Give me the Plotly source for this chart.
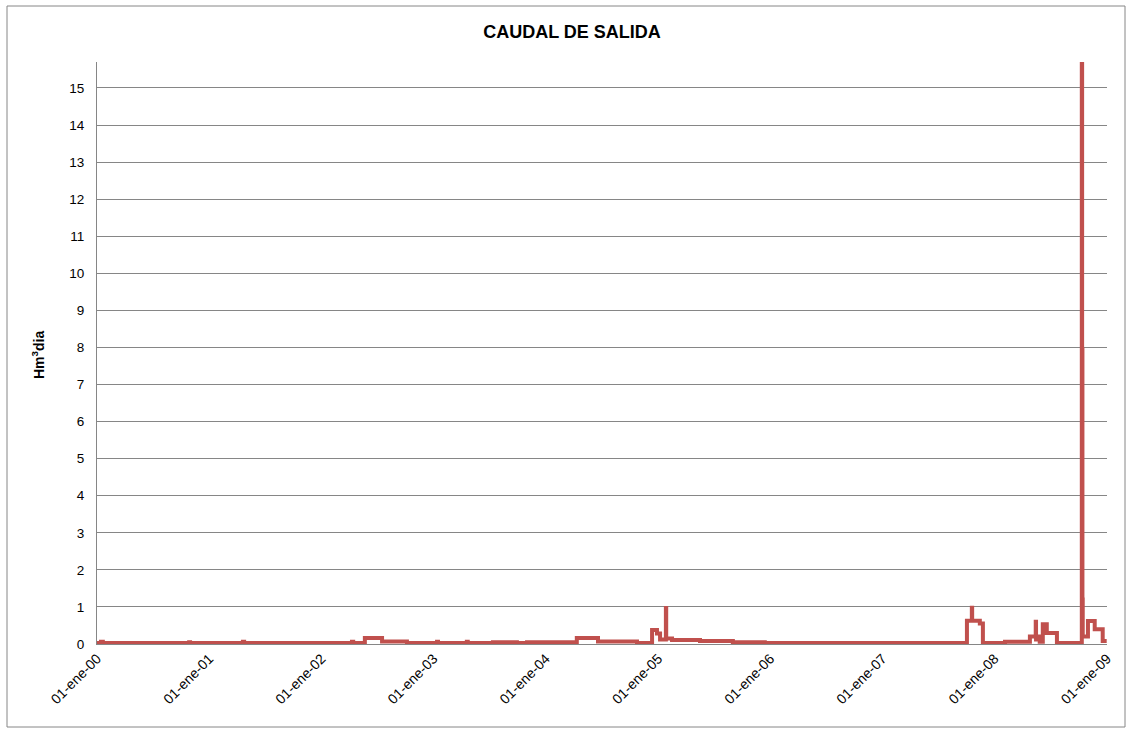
import plotly.graph_objects as go

# Caudal de salida (Hm3/dia): fechas en que cambia el valor y valor desde esa fecha
fechas = [
    "2000-01-01", "2000-01-14", "2000-01-20", "2000-10-27", "2000-10-30",
    "2001-04-20", "2001-04-24", "2002-04-10", "2002-04-14", "2002-05-22",
    "2002-07-17", "2002-10-06", "2003-01-12", "2003-01-15", "2003-04-19",
    "2003-04-22", "2003-07-13", "2003-09-29", "2003-11-01", "2004-03-29",
    "2004-04-11", "2004-06-19", "2004-10-24", "2004-12-12", "2004-12-28",
    "2005-01-07", "2005-01-26", "2005-01-27", "2005-02-15", "2005-05-17",
    "2005-09-01", "2005-12-14", "2007-10-03", "2007-10-19", "2007-10-20",
    "2007-11-14", "2007-11-24", "2008-02-04", "2008-04-25", "2008-05-14",
    "2008-05-15", "2008-05-18", "2008-05-27", "2008-06-06", "2008-06-19",
    "2008-06-20", "2008-07-22", "2008-10-11", "2008-10-12", "2008-10-13",
    "2008-10-14", "2008-10-31", "2008-11-22", "2008-12-18", "2008-12-31",
]
caudal = [
    0.03, 0.06, 0.03, 0.05, 0.03,
    0.06, 0.03, 0.06, 0.03, 0.16,
    0.07, 0.03, 0.06, 0.03, 0.06,
    0.03, 0.05, 0.03, 0.05, 0.04,
    0.16, 0.07, 0.03, 0.38, 0.28,
    0.12, 0.97, 0.15, 0.11, 0.08,
    0.05, 0.03, 0.63, 0.98, 0.63,
    0.55, 0.03, 0.06, 0.20, 0.60,
    0.12, 0.20, 0.06, 0.53, 0.30,
    0.30, 0.03, 15.65, 7.95, 1.20,
    0.20, 0.62, 0.40, 0.08, 0.08,
]

# Etiquetas del eje de fechas
tick_fechas = ["2000-01-01", "2001-01-01", "2002-01-01", "2003-01-01", "2004-01-01",
               "2005-01-01", "2006-01-01", "2007-01-01", "2008-01-01", "2009-01-01"]
tick_textos = ["01-ene-00", "01-ene-01", "01-ene-02", "01-ene-03", "01-ene-04",
               "01-ene-05", "01-ene-06", "01-ene-07", "01-ene-08", "01-ene-09"]
y_ticks = list(range(0, 16))

ROJO = "#C0504D"
GRIS = "#868686"
FUENTE = "Liberation Sans"

fig = go.Figure()
fig.add_trace(go.Scatter(
    x=fechas, y=caudal, mode="lines", line_shape="hv",
    line=dict(color=ROJO, width=4), showlegend=False,
))

L, R, T, B = 97, 22, 62, 87
W, H = 1129, 731
pw, ph = W - L - R, H - T - B

fig.update_layout(
    width=W, height=H,
    margin=dict(l=L, r=R, t=T, b=B),
    paper_bgcolor="white", plot_bgcolor="white",
    font=dict(family=FUENTE, color="#000000"),
    title=dict(text="<b>CAUDAL DE SALIDA</b>", x=572 / W, xanchor="center",
               y=1 - 32 / H, yanchor="middle",
               font=dict(size=18, family=FUENTE, color="#000000")),
    xaxis=dict(
        type="date", range=["2000-01-01", "2009-01-01"],
        tickmode="array", tickvals=tick_fechas, ticktext=tick_textos,
        tickangle=-45, tickfont=dict(size=14, color="#000000"),
        showgrid=False, zeroline=False,
        showline=True, linecolor=GRIS, linewidth=1,
        ticks="", ticklen=0,
    ),
    yaxis=dict(
        range=[0, 15.7], tickmode="array", tickvals=y_ticks,
        tickfont=dict(size=13.5, color="#000000"),
        showgrid=True, gridcolor=GRIS, gridwidth=1,
        zeroline=False, showline=True, linecolor=GRIS, linewidth=1,
        ticks="", ticklabelstandoff=9,
    ),
    annotations=[dict(
        text="<b>Hm<sup>3</sup>dia</b>", textangle=-90,
        xref="paper", yref="paper",
        x=(38 - L) / pw, y=(H - B - 355) / ph,
        xanchor="center", yanchor="middle", showarrow=False,
        font=dict(size=14, family=FUENTE, color="#000000"),
    )],
    shapes=[dict(
        type="rect", xref="paper", yref="paper",
        x0=(7 - L) / pw, x1=(1125 - L) / pw,
        y0=(H - B - 727) / ph, y1=(H - B - 6) / ph,
        line=dict(color=GRIS, width=1), fillcolor="rgba(0,0,0,0)", layer="below",
    )],
)

fig.write_html("out.html")
